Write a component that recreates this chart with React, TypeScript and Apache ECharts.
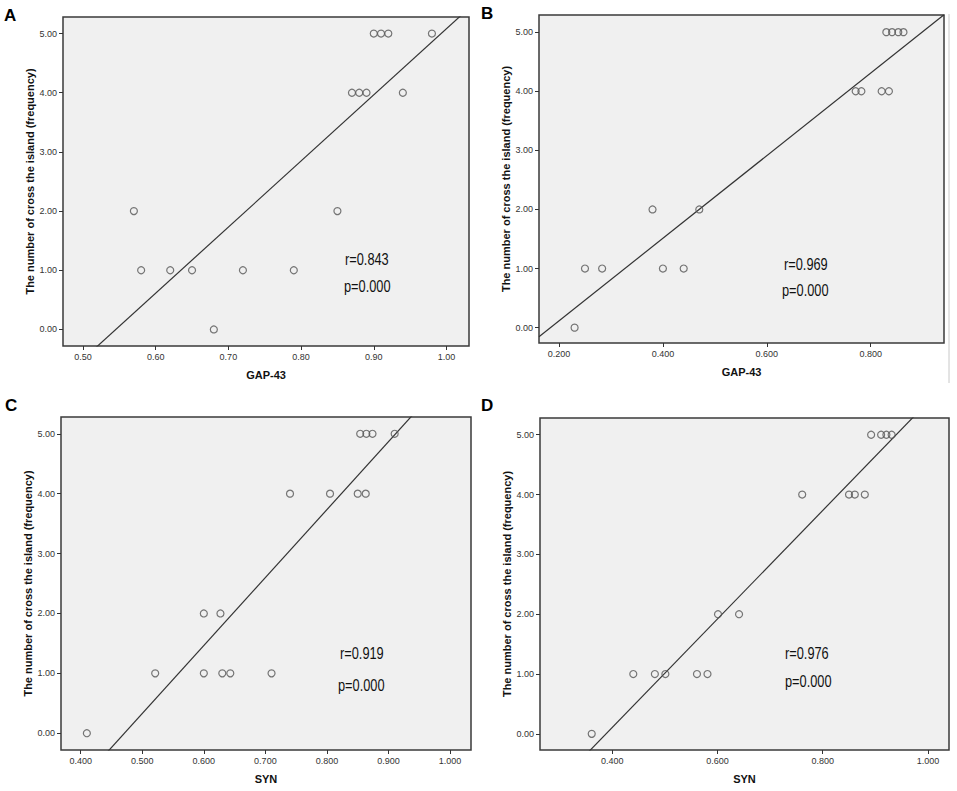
import React, { useEffect, useRef } from "react";
import * as echarts from "echarts";

// Panel A: GAP-43 vs crossings
const gapAx = [0.57, 0.58, 0.62, 0.65, 0.68, 0.72, 0.79, 0.85, 0.87, 0.88, 0.89, 0.90, 0.91, 0.92, 0.94, 0.98];
const gapAy = [2, 1, 1, 1, 0, 1, 1, 2, 4, 4, 4, 5, 5, 5, 4, 5];
// Panel B: GAP-43 vs crossings
const gapBx = [0.23, 0.25, 0.283, 0.38, 0.40, 0.44, 0.47, 0.771, 0.782, 0.821, 0.835, 0.830, 0.841, 0.853, 0.863];
const gapBy = [0, 1, 1, 2, 1, 1, 2, 4, 4, 4, 4, 5, 5, 5, 5];
// Panel C: SYN vs crossings
const synCx = [0.41, 0.521, 0.60, 0.60, 0.627, 0.63, 0.643, 0.71, 0.74, 0.805, 0.85, 0.863, 0.854, 0.864, 0.874, 0.91];
const synCy = [0, 1, 1, 2, 2, 1, 1, 1, 4, 4, 4, 4, 5, 5, 5, 5];
// Panel D: SYN vs crossings
const synDx = [0.361, 0.44, 0.481, 0.501, 0.561, 0.581, 0.601, 0.641, 0.761, 0.85, 0.861, 0.88, 0.892, 0.911, 0.921, 0.931];
const synDy = [0, 1, 1, 1, 1, 1, 2, 2, 4, 4, 4, 4, 5, 5, 5, 5];

// Tick labels
const xTicksA = [0.5, 0.6, 0.7, 0.8, 0.9, 1.0];
const xTicksB = [0.2, 0.4, 0.6, 0.8];
const xTicksC = [0.4, 0.5, 0.6, 0.7, 0.8, 0.9, 1.0];
const xTicksD = [0.4, 0.6, 0.8, 1.0];
const yTicks = [0, 1, 2, 3, 4, 5];

const panelLetters = ["A", "B", "C", "D"];
const xNames = ["GAP-43", "GAP-43", "SYN", "SYN"];
const yName = "The number of cross the island (frequency)";
const rTexts = ["r=0.843", "r=0.969", "r=0.919", "r=0.976"];
const pTexts = ["p=0.000", "p=0.000", "p=0.000", "p=0.000"];

const xDecimals = [2, 3, 3, 3];

function fit(xs: number[], ys: number[]) {
  const n = xs.length;
  const mx = xs.reduce((a, b) => a + b, 0) / n;
  const my = ys.reduce((a, b) => a + b, 0) / n;
  let sxy = 0, sxx = 0;
  for (let i = 0; i < n; i++) {
    sxy += (xs[i] - mx) * (ys[i] - my);
    sxx += (xs[i] - mx) * (xs[i] - mx);
  }
  const b = sxy / sxx;
  return { b, a: my - b * mx };
}

const SANS = "'Liberation Sans', Arial, sans-serif";

export default function App() {
  const ref = useRef<HTMLDivElement>(null);
  useEffect(() => {
    document.body.style.margin = "0";
    if (!ref.current) return;
    const chart = echarts.init(ref.current, undefined, { renderer: "svg" });

    const panels = [
      { xs: gapAx, ys: gapAy, ticks: xTicksA, grid: { left: 63, top: 17, width: 406, height: 329 }, xr: [0.4725, 1.031], yr: [-0.28, 5.28], r: [345, 259], p: [344, 286.5], letter: [4, 7] },
      { xs: gapBx, ys: gapBy, ticks: xTicksB, grid: { left: 539, top: 15, width: 405, height: 328 }, xr: [0.1615, 0.941], yr: [-0.26, 5.29], r: [784, 264.5], p: [782, 290], letter: [481, 5] },
      { xs: synCx, ys: synCy, ticks: xTicksC, grid: { left: 61, top: 417, width: 410, height: 333 }, xr: [0.368, 1.034], yr: [-0.28, 5.28], r: [340, 653], p: [338, 685.5], letter: [5, 397] },
      { xs: synDx, ys: synDy, ticks: xTicksD, grid: { left: 540, top: 418, width: 409, height: 332 }, xr: [0.2627, 1.04], yr: [-0.27, 5.28], r: [785, 653], p: [785, 681], letter: [481, 397] },
    ];

    const grid: any[] = [];
    const xAxis: any[] = [];
    const yAxis: any[] = [];
    const series: any[] = [];
    const graphic: any[] = [];

    panels.forEach((pn, i) => {
      grid.push({
        ...pn.grid,
        show: true,
        backgroundColor: "#f0f0f0",
        borderColor: "#3a3a3a",
        borderWidth: 1.5,
        containLabel: false,
      });
      xAxis.push({
        type: "value",
        gridIndex: i,
        position: "bottom",
        min: pn.xr[0],
        max: pn.xr[1],
        name: xNames[i],
        nameLocation: "middle",
        nameGap: 23,
        nameTextStyle: { fontFamily: SANS, fontWeight: "bold", fontSize: 11, color: "#111" },
        axisLine: { show: false, onZero: false },
        splitLine: { show: false },
        axisTick: { show: true, customValues: pn.ticks, length: 4, lineStyle: { color: "#333" } },
        axisLabel: {
          customValues: pn.ticks,
          formatter: (v: number) => v.toFixed(xDecimals[i]),
          fontFamily: SANS,
          fontSize: 9,
          color: "#333",
          margin: 6,
        },
      });
      yAxis.push({
        type: "value",
        gridIndex: i,
        position: "left",
        min: pn.yr[0],
        max: pn.yr[1],
        name: yName,
        nameLocation: "middle",
        nameGap: 24,
        nameTextStyle: { fontFamily: SANS, fontWeight: "bold", fontSize: 11, color: "#111" },
        axisLine: { show: false, onZero: false },
        splitLine: { show: false },
        axisTick: { show: true, customValues: yTicks, length: 4, lineStyle: { color: "#333" } },
        axisLabel: {
          customValues: yTicks,
          formatter: (v: number) => v.toFixed(2),
          fontFamily: SANS,
          fontSize: 9,
          color: "#333",
          margin: 6,
        },
      });
      const { a, b } = fit(pn.xs, pn.ys);
      series.push({
        type: "line",
        xAxisIndex: i,
        yAxisIndex: i,
        data: [
          [pn.xr[0], a + b * pn.xr[0]],
          [pn.xr[1], a + b * pn.xr[1]],
        ],
        showSymbol: false,
        symbol: "none",
        clip: true,
        lineStyle: { color: "#333", width: 1.2 },
        silent: true,
        z: 2,
      });
      series.push({
        type: "scatter",
        xAxisIndex: i,
        yAxisIndex: i,
        data: pn.xs.map((x, k) => [x, pn.ys[k]]),
        symbol: "circle",
        symbolSize: 7,
        itemStyle: { color: "rgba(240,240,240,0)", borderColor: "#555", borderWidth: 1.2 },
        z: 3,
      });
      graphic.push({
        type: "text",
        x: pn.letter[0],
        y: pn.letter[1],
        style: { text: panelLetters[i], font: `bold 17px ${SANS}`, fill: "#000", textAlign: "left", textVerticalAlign: "top" },
      });
      graphic.push({
        type: "text",
        x: pn.r[0],
        y: pn.r[1],
        scaleX: 0.8,
        style: { text: rTexts[i], font: `16px ${SANS}`, fill: "#111", textAlign: "left", textVerticalAlign: "middle" },
      });
      graphic.push({
        type: "text",
        x: pn.p[0],
        y: pn.p[1],
        scaleX: 0.8,
        style: { text: pTexts[i], font: `16px ${SANS}`, fill: "#111", textAlign: "left", textVerticalAlign: "middle" },
      });
    });

    graphic.push({
      type: "line",
      shape: { x1: 949, y1: 14, x2: 949, y2: 383 },
      style: { stroke: "#c8c8c8", lineWidth: 1 },
    });

    chart.setOption({
      animation: false,
      backgroundColor: "#ffffff",
      grid,
      xAxis,
      yAxis,
      series,
      graphic,
    });
    return () => chart.dispose();
  }, []);
  return <div ref={ref} style={{ width: 957, height: 791 }} />;
}
